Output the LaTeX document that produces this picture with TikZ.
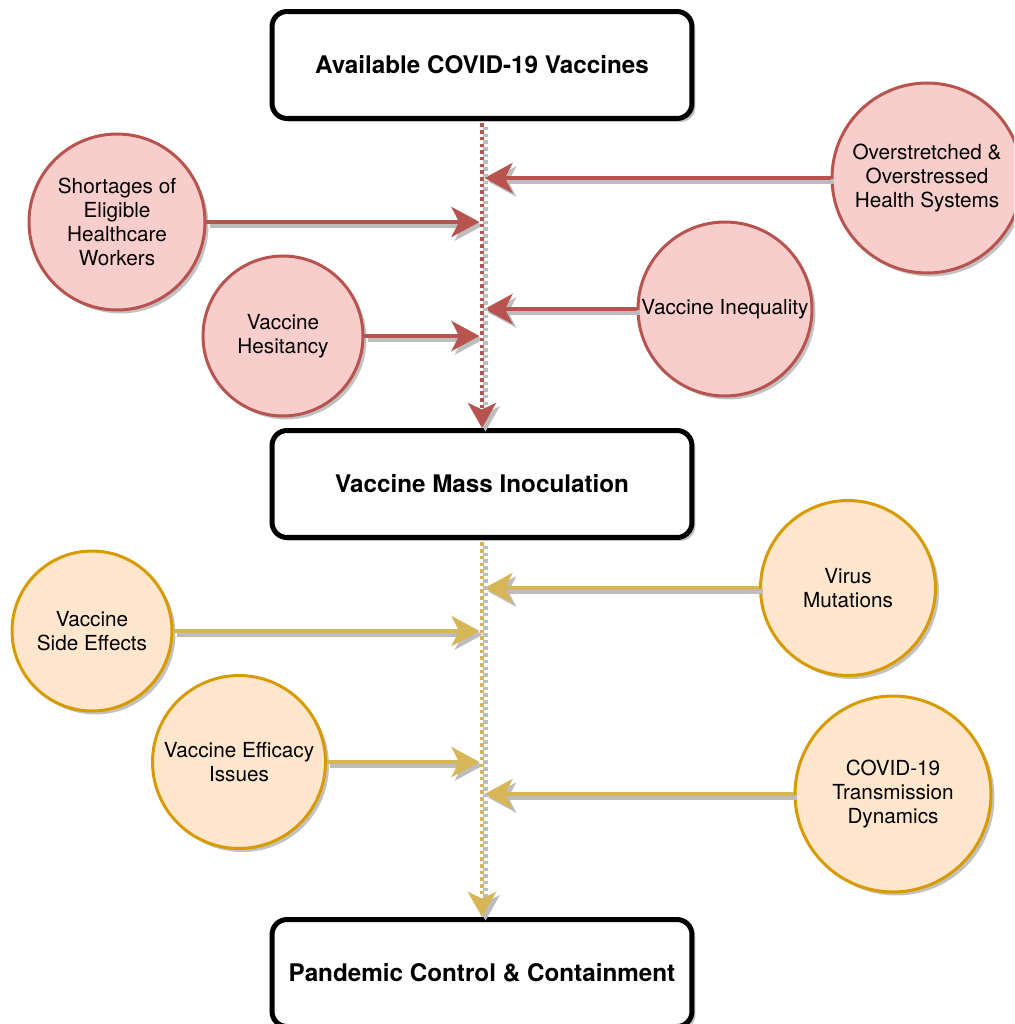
\documentclass[tikz,border=0pt]{standalone}
\usepackage{fontspec}
\setmainfont{TeX Gyre Heros}
\usetikzlibrary{arrows.meta,shadows}
\definecolor{redline}{HTML}{B85450}
\definecolor{redfill}{HTML}{F8CECC}
\definecolor{yelline}{HTML}{D6B656}
\definecolor{orgline}{HTML}{D79B00}
\definecolor{orgfill}{HTML}{FFE6CC}
\definecolor{lightshade}{HTML}{BDBDBD}
\tikzset{
  shadowed/.style={drop shadow={shadow xshift=0.07cm,shadow yshift=-0.07cm,fill=black!40,opacity=0.6}},
  stagebox/.style={draw=black,fill=white,line width=0.1cm,rounded corners=0.3cm,
    minimum width=8.4cm,minimum height=2.14cm,shadowed,
    font=\fontsize{13.8}{16}\selectfont\bfseries},
  barrier/.style={circle,draw=redline,fill=redfill,line width=0.06cm,inner sep=0pt,
    align=center,shadowed,font=\fontsize{11.8}{13.6}\selectfont},
  threat/.style={barrier,draw=orgline,fill=orgfill},
  feed/.style={line width=0.09cm,shorten >=0.05cm,
    -{Stealth[length=0.56cm,width=0.6cm,inset=0.15cm]}},
  drip/.style={line width=0.09cm,dash pattern=on 0.07cm off 0.064cm,shorten <=0.05cm,
    -{Stealth[length=0.5cm,width=0.56cm,inset=0.13cm]}},
  offset/.style={color=lightshade,transform canvas={xshift=0.07cm,yshift=-0.07cm}}
}
\begin{document}
\begin{tikzpicture}[x=0.02cm,y=-0.02cm]
\clip (0,0) rectangle (1014,1024);
% main stages
\node[stagebox] (avail) at (482,65) {Available COVID-19 Vaccines};
\node[stagebox] (inoc) at (482,484) {Vaccine Mass Inoculation};
\node[stagebox] (ctrl) at (482,973) {Pandemic Control \& Containment};
% barriers before inoculation
\node[barrier,minimum size=3.52cm] (workers) at (117,222) {Shortages of\\Eligible\\Healthcare\\Workers};
\node[barrier,minimum size=3.8cm] (health) at (927,178) {Overstretched \&\\Overstressed\\Health Systems};
\node[barrier,minimum size=3.2cm] (hesit) at (283,336) {Vaccine\\Hesitancy};
\node[barrier,minimum size=3.48cm] (inequal) at (725,309) {Vaccine Inequality};
% threats before control
\node[threat,minimum size=3.2cm] (side) at (92,631) {Vaccine\\Side Effects};
\node[threat,minimum size=3.5cm] (mutat) at (848,588) {Virus\\Mutations};
\node[threat,minimum size=3.46cm] (effic) at (239,762) {Vaccine Efficacy\\Issues};
\node[threat,minimum size=3.92cm] (transm) at (893,794) {COVID-19\\Transmission\\Dynamics};
% feeding arrows
\foreach \n/\a/\col in {workers/east/redline,hesit/east/redline,health/west/redline,
  inequal/west/redline,side/east/yelline,effic/east/yelline,mutat/west/yelline,transm/west/yelline}{
  \draw[feed,offset] (\n.\a) -- (\n -| avail);
  \draw[feed,\col] (\n.\a) -- (\n -| avail);
}
% main flow
\draw[drip,offset] (avail.south) -- (inoc.north);
\draw[drip,redline] (avail.south) -- (inoc.north);
\draw[drip,offset] (inoc.south) -- (ctrl.north);
\draw[drip,yelline] (inoc.south) -- (ctrl.north);
\end{tikzpicture}
\end{document}
